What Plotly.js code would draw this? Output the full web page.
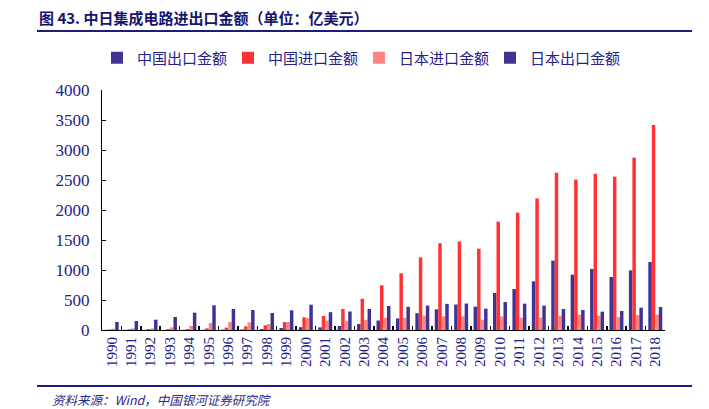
<!DOCTYPE html>
<html>
<head>
<meta charset="utf-8">
<script src="https://cdn.plot.ly/plotly-3.0.1.min.js"></script>
<style>html,body{margin:0;padding:0;background:#fff;}#chart{width:709px;height:409px;}</style>
</head>
<body>
<div id="chart"></div>
<script>
const years = ['1990','1991','1992','1993','1994','1995','1996','1997','1998','1999','2000','2001','2002','2003','2004','2005','2006','2007','2008','2009','2010','2011','2012','2013','2014','2015','2016','2017','2018'];
const chinaExport = [3,3,3,3,4,6,8,10,17,33,47,44,67,100,158,192,280,345,425,389,617,683,811,1156,922,1017,883,994,1133];
const chinaImport = [10,12,17,17,17,28,39,61,78,133,211,233,350,520,745,945,1210,1445,1475,1356,1806,1956,2194,2622,2506,2606,2556,2872,3417];
const japanImport = [22,28,28,44,67,117,133,128,100,133,200,156,153,170,203,203,238,228,228,172,228,206,206,239,256,239,217,250,256];
const japanExport = [133,150,172,217,289,411,350,333,283,328,422,297,308,350,400,386,408,436,441,356,467,439,406,350,333,306,317,372,383];
const seriesNames = ['中国出口金额','中国进口金额','日本进口金额','日本出口金额'];

const navy = '#22228a';
const cjk = '"Noto Sans CJK SC", "Noto Sans", sans-serif';
const serif = '"Liberation Serif", "DejaVu Serif", serif';

const W = 709, H = 409, L = 102, R = 44, T = 90, B = 79;
const pw = W - L - R, ph = H - T - B;
const px = x => (x - L) / pw;
const py = y => (H - B - y) / ph;

const colors = ['#3f3494', '#ff3333', '#ff8585', '#3f3494'];
const data = [chinaExport, chinaImport, japanImport, japanExport].map((vals, i) => ({
  type: 'bar',
  name: seriesNames[i],
  x: years,
  y: vals,
  marker: {color: colors[i], line: {width: 0}},
  hoverinfo: 'x+y+name'
}));

const layout = {
  width: W, height: H,
  margin: {l: L, r: R, t: T, b: B, pad: 0},
  paper_bgcolor: '#fff', plot_bgcolor: '#fff',
  barmode: 'group',
  bargap: 0.28,
  bargroupgap: 0,
  showlegend: true,
  legend: {
    orientation: 'h',
    x: px(97), xanchor: 'left',
    y: py(58), yanchor: 'middle',
    entrywidth: 86,
    itemwidth: 30,
    font: {family: cjk, size: 15, color: navy},
    bgcolor: 'rgba(0,0,0,0)'
  },
  xaxis: {
    type: 'category',
    showline: true, linecolor: '#000', linewidth: 1,
    ticks: 'inside', ticklen: 4, tickcolor: '#000', tickwidth: 1.5,
    tickson: 'boundaries',
    tickangle: -90,
    tickfont: {family: serif, size: 15, color: navy},
    showgrid: false, zeroline: false,
    fixedrange: true
  },
  yaxis: {
    range: [0, 4000],
    dtick: 500,
    showline: true, linecolor: '#000', linewidth: 1,
    ticks: 'inside', ticklen: 4, tickcolor: '#000',
    ticklabelstandoff: 8,
    tickfont: {family: serif, size: 17, color: navy},
    showgrid: false, zeroline: false,
    fixedrange: true
  },
  shapes: [
    {type: 'line', xref: 'paper', yref: 'paper', x0: px(37), x1: px(692), y0: py(31), y1: py(31), line: {color: '#1c1c7a', width: 2}},
    {type: 'line', xref: 'paper', yref: 'paper', x0: px(37), x1: px(692), y0: py(386), y1: py(386), line: {color: '#1c1c7a', width: 2}}
  ],
  annotations: [
    {xref: 'paper', yref: 'paper', x: px(37), y: py(18), xanchor: 'left', yanchor: 'middle', showarrow: false,
     text: '<b>图 43. 中日集成电路进出口金额（单位：亿美元）</b>', font: {family: cjk, size: 15, color: '#14146e'}},
    {xref: 'paper', yref: 'paper', x: px(50), y: py(399), xanchor: 'left', yanchor: 'middle', showarrow: false,
     text: '<i>资料来源：Wind，中国银河证券研究院</i>', font: {family: cjk, size: 12.5, color: '#2a2a8a'}}
  ]
};

Plotly.newPlot('chart', data, layout, {displayModeBar: false, staticPlot: true});
</script>
</body>
</html>
